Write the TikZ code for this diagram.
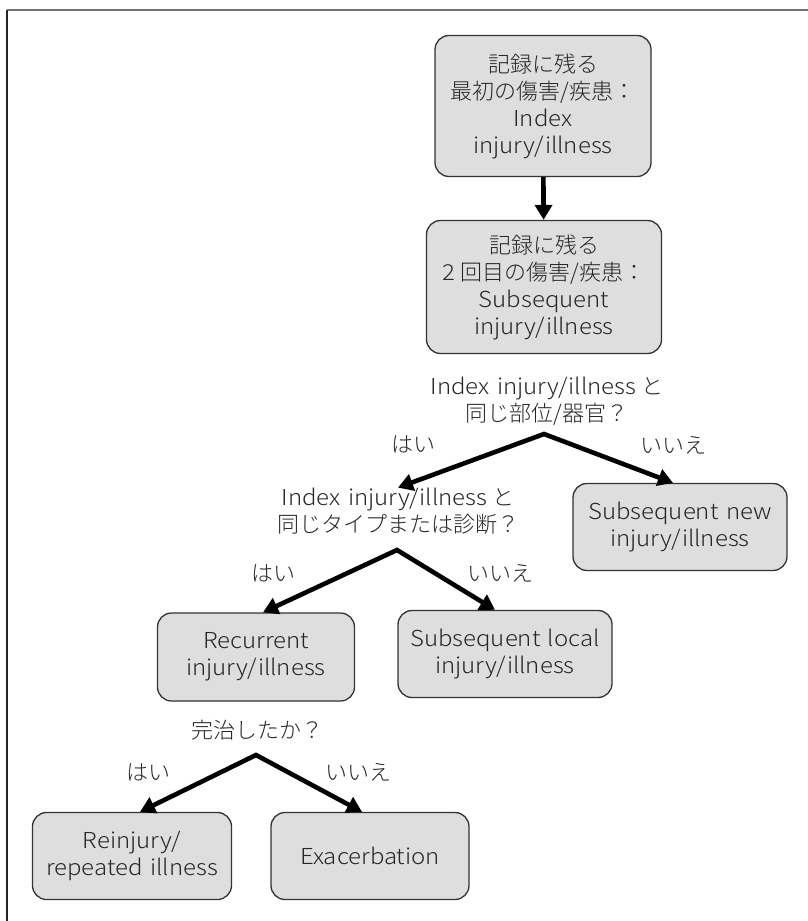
\documentclass[tikz,border=0pt]{standalone}
\usepackage{fontspec}
\setmainfont{Noto Sans CJK JP}[UprightFont=* Light]
\newfontfamily\lat{Noto Sans CJK JP}[UprightFont=* Light, FakeStretch=1.09, WordSpace=1.4]
\usetikzlibrary{arrows.meta}

\begin{document}
\begin{tikzpicture}[x=1pt, y=-1pt,
    box/.style={draw=black!80, line width=1.3pt, fill=black!13, rounded corners=14pt,
      align=center, inner sep=0pt, text=black!85, font=\fontsize{22}{27}\selectfont},
    ask/.style={align=center, inner sep=0pt, text=black!85, font=\fontsize{22}{27}\selectfont},
    ans/.style={inner sep=0pt, text=black!85, font=\fontsize{22}{27}\selectfont},
    fork/.style={line width=4.6pt, {Triangle[length=15pt, width=17pt]}-{Triangle[length=15pt, width=17pt]}},
    flow/.style={line width=4.6pt, -{Triangle[length=15pt, width=17pt]}}]
    \useasboundingbox (0,0) rectangle (808,921);

    % frame
    \draw[black!55, line width=1.5pt] (7,10) -- (808,10);
    \draw[black!85, line width=1.5pt] (7,10) -- (7,921);

    % first and second injury
    \node[box, minimum width=216pt, minimum height=141pt] (index) at (543,106) {記録に残る\\最初の傷害/疾患：\\{\lat Index}\\{\lat injury/illness}};
    \node[box, minimum width=235pt, minimum height=133pt] (second) at (544,287) {記録に残る\\{\lat 2} 回目の傷害/疾患：\\{\lat Subsequent}\\{\lat injury/illness}};
    \draw[flow] (index) -- (second);

    % same site?
    \node[ask] (site) at (547,401) {{\lat Index injury/illness} と\\同じ部位/器官？};
    \coordinate (siteFork) at (544,434);
    \node[ans] (siteYes) at (413,444) {はい};
    \node[ans] (siteNo) at (673,445) {いいえ};
    \node[box, minimum width=214pt, minimum height=87pt] (newInj) at (680,527) {{\lat Subsequent new}\\{\lat injury/illness}};

    % same type?
    \node[ask] (kind) at (398,511) {{\lat Index injury/illness} と\\同じタイプまたは診断？};
    \coordinate (kindFork) at (397,550);
    \node[ans] (kindYes) at (273,573) {はい};
    \node[ans] (kindNo) at (500,573) {いいえ};
    \node[box, minimum width=197pt, minimum height=88pt] (recur) at (256,657) {{\lat Recurrent}\\{\lat injury/illness}};
    \node[box, minimum width=214pt, minimum height=87pt] (local) at (505,654) {{\lat Subsequent local}\\{\lat injury/illness}};

    % healed?
    \node[ask] (healed) at (257,730) {完治したか？};
    \coordinate (healFork) at (256,755);
    \node[ans] (healYes) at (148,772) {はい};
    \node[ans] (healNo) at (358,772) {いいえ};
    \node[box, minimum width=199pt, minimum height=87pt] (reinj) at (132,856) {{\lat Reinjury/}\\{\lat repeated illness}};
    \node[box, minimum width=198pt, minimum height=87pt] (exac) at (370,856) {{\lat Exacerbation}};

    \draw[fork] (kind.north) -- (siteFork) -- ([xshift=-7pt]newInj.north);
    \draw[fork] ([xshift=7pt]recur.north) -- (kindFork) -- ([xshift=-10pt]local.north);
    \draw[fork] ([xshift=8pt]reinj.north) -- (healFork) -- ([xshift=-8pt]exac.north);
\end{tikzpicture}
\end{document}
